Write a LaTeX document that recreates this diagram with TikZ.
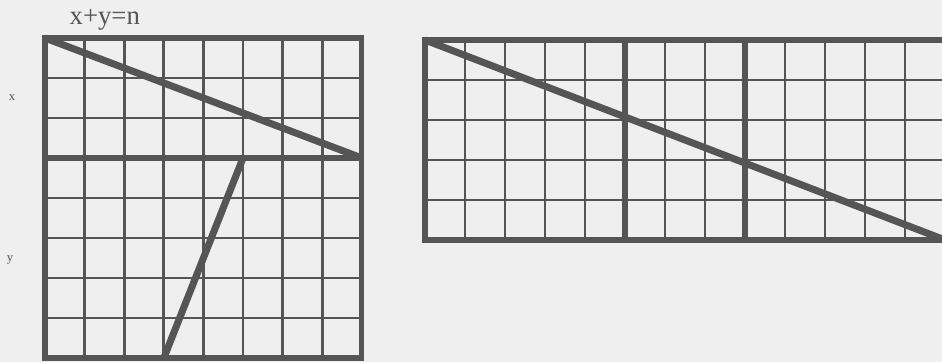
\documentclass[tikz,border=0pt]{standalone}
\usepackage{fontspec}
\setmainfont{Liberation Serif}
\usetikzlibrary{calc}
\definecolor{inkgray}{RGB}{85,85,85}
\definecolor{paper}{RGB}{239,239,239}

\begin{document}
\begin{tikzpicture}[
    gridline/.style={draw=inkgray, line width=1.9pt},
    frameline/.style={draw=inkgray, line width=3.8pt},
    heavyline/.style={draw=inkgray, line width=5pt},
    lbl/.style={text=inkgray, inner sep=0pt}
  ]
          \fill[paper] (0,0) rectangle (23.55,9.05);
          \clip (0,0) rectangle (23.55,9.05);
          % left square: x above the thick line, y below
          \begin{scope}[shift={(1.125,0.1)}, xscale=0.99]
            \foreach \i in {1,...,7} {
              \draw[gridline] (\i,0) -- (\i,8);
              \draw[gridline] (0,\i) -- (8,\i);
            }
            \draw[frameline] (0,5) -- (8,5);
            \draw[frameline] (0,0) rectangle (8,8);
            \coordinate (ltop) at (0,8);
            \coordinate (lmid) at (8,5);
            \coordinate (lbot) at (3,0);
            \coordinate (lknee) at (5,5);
            \draw[heavyline] (ltop) -- (lmid);
            \draw[heavyline] (lbot) -- (lknee);
          \end{scope}
          % right strip
          \begin{scope}[shift={(10.625,3.05)}]
            \foreach \i in {1,...,12}
              \draw[gridline] (\i,0) -- (\i,5);
            \foreach \j in {1,...,4}
              \draw[gridline] (0,\j) -- (13,\j);
            \draw[frameline] (5,0) -- (5,5);
            \draw[frameline] (8,0) -- (8,5);
            \draw[frameline] (0,0) rectangle (13,5);
            \coordinate (rtop) at (0,5);
            \coordinate (rbot) at (13,0);
            \draw[heavyline] (rtop) -- (rbot);
          \end{scope}
          \node[lbl, font=\fontsize{19}{23}\selectfont] (eqn) at (2.62,8.55) {x+y=n};
          \node[lbl, font=\small] (xlab) at (0.3,6.6) {x};
          \node[lbl, font=\small] (ylab) at (0.25,2.55) {y};
\end{tikzpicture}
\end{document}
